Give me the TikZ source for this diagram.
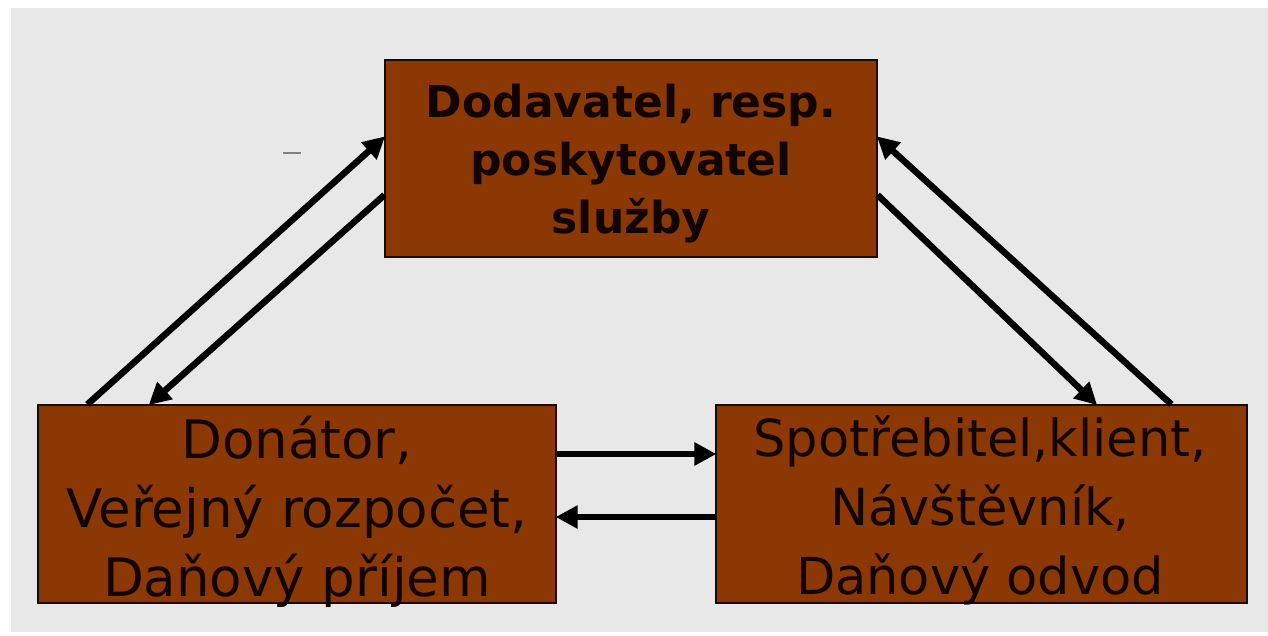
\documentclass[tikz,border=0pt]{standalone}
\usepackage{fontspec}
\setmainfont{DejaVu Sans}
\usetikzlibrary{arrows.meta}
\definecolor{boxbrown}{RGB}{139,56,4}
\definecolor{bggray}{RGB}{232,232,232}
\definecolor{txtdark}{RGB}{18,4,0}
\tikzset{
  entity/.style={draw=black!80!boxbrown, line width=1.2pt, fill=boxbrown, inner sep=0pt},
  label/.style={text=txtdark, align=center, inner sep=0pt, anchor=base},
  flow/.style={line width=6.5pt, -{Triangle[length=22pt,width=22pt]}, shorten >=-1pt}
}
\begin{document}
\begin{tikzpicture}[x=1pt,y=-1pt]
\useasboundingbox (0,0) rectangle (1268,635);
\fill[white] (0,0) rectangle (1268,635);
\fill[bggray] (11,8) rectangle (1268,632);
\node[entity, minimum width=492pt, minimum height=197pt] (T) at (631,158.5) {};
\node[entity, minimum width=518pt, minimum height=198pt] (L) at (297,504) {};
\node[entity, minimum width=531pt, minimum height=198pt] (R) at (981.5,504) {};
\node[label, font=\fontsize{44}{58}\selectfont\bfseries] (TT) at (631,233) {Dodavatel, resp.\\poskytovatel\\služby};
\node[label, font=\fontsize{53}{69}\selectfont] (LT) at (297,596) {Donátor,\\Veřejný rozpočet,\\Daňový příjem};
\node[label, font=\fontsize{51}{69}\selectfont] (RT) at (980,594) {Spotřebitel,klient,\\Návštěvník,\\Daňový odvod};
\draw[flow] ([xshift=50pt]L.north west) -- ([yshift=21.5pt]T.west);
\draw[flow] ([yshift=-36.5pt]T.west) -- ([xshift=112pt]L.north west);
\draw[flow] ([yshift=-36.5pt]T.east) -- ([xshift=381pt]R.north west);
\draw[flow] ([xshift=456pt]R.north west) -- ([yshift=21.5pt]T.east);
\draw[flow] ([yshift=50pt]L.east) -- ([yshift=50pt]R.west);
\draw[flow] ([yshift=-13pt]R.west) -- ([yshift=-13pt]L.east);
\coordinate (d1) at (283,153);
\coordinate (d2) at (301,153);
\draw[gray, line width=1.2pt] (d1) -- (d2);
\end{tikzpicture}
\end{document}
